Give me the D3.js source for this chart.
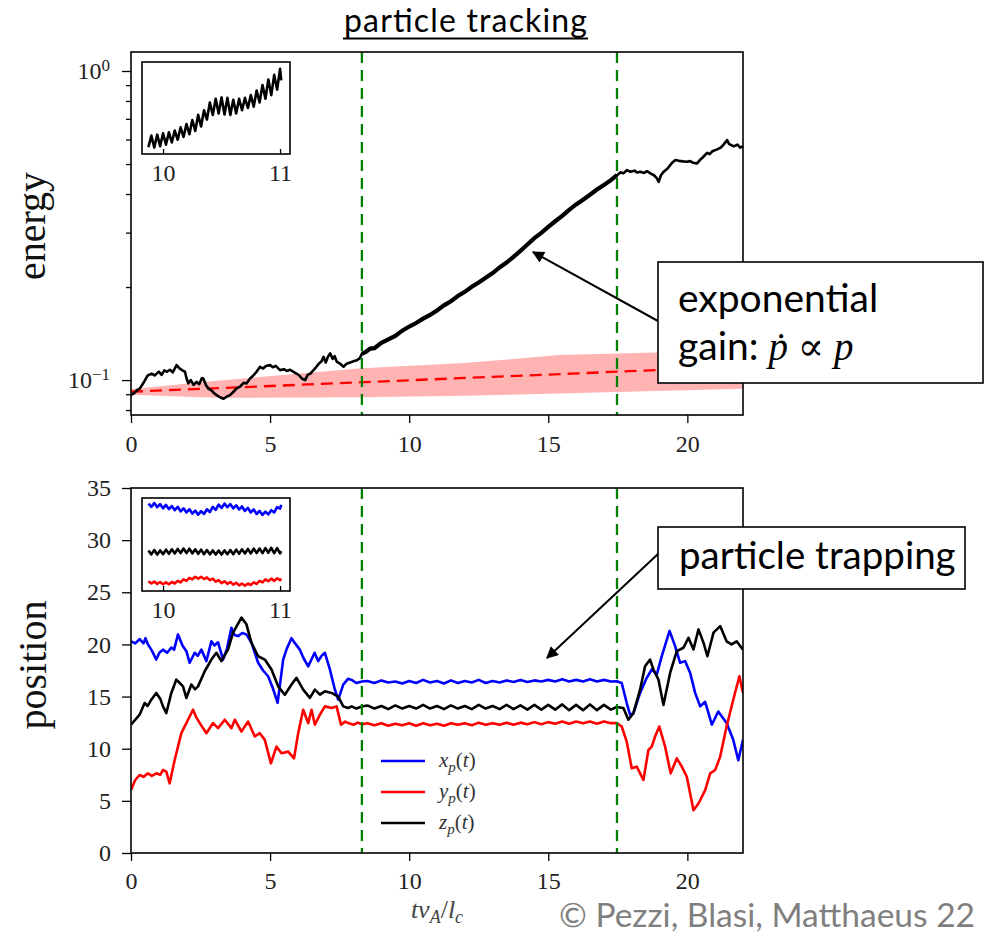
<!DOCTYPE html>
<html>
<head>
<meta charset="utf-8">
<script src="https://cdn.jsdelivr.net/npm/d3@7"></script>
<style>
  body { margin: 0; background: #fff; }
</style>
</head>
<body>
<div id="chart"></div>
<script>
// ---- data ----
const xTicks = [0, 5, 10, 15, 20]
const posTicks = [0, 5, 10, 15, 20, 25, 30, 35]
const energyMajor = [0.1, 1]
const energyMinor = [0.08, 0.09, 0.2, 0.3, 0.4, 0.5, 0.6, 0.7, 0.8, 0.9]
const trapBounds = [8.3, 17.47]
const insetTicks = [10, 11]

// energy of the tracked particle [t, E]
const energy = [
  [0, 0.0894], [0.1, 0.0905], [0.2, 0.0925], [0.32, 0.094], [0.45, 0.098], [0.6, 0.1035],
  [0.74, 0.105], [0.85, 0.1035], [1.0, 0.1065], [1.1, 0.104], [1.2, 0.1075], [1.28, 0.1064],
  [1.4, 0.108], [1.5, 0.106], [1.64, 0.1118], [1.75, 0.109], [1.85, 0.1075], [1.94, 0.1064],
  [2.0, 0.101], [2.06, 0.0976], [2.15, 0.1], [2.25, 0.0965], [2.36, 0.0987], [2.45, 0.097],
  [2.55, 0.1015], [2.6, 0.1012], [2.7, 0.096], [2.78, 0.094], [2.9, 0.0925], [3.0, 0.0905],
  [3.08, 0.0894], [3.2, 0.088], [3.32, 0.087], [3.45, 0.0885], [3.56, 0.0894], [3.7, 0.092],
  [3.8, 0.094], [3.92, 0.0952], [4.05, 0.098], [4.15, 0.0975], [4.28, 0.1012], [4.4, 0.1035],
  [4.5, 0.106], [4.64, 0.1104], [4.75, 0.109], [4.85, 0.111], [5.0, 0.1118], [5.1, 0.11],
  [5.2, 0.1112], [5.36, 0.1077], [5.5, 0.1085], [5.6, 0.107], [5.72, 0.108], [5.84, 0.1064],
  [5.95, 0.105], [6.05, 0.1035], [6.15, 0.101], [6.26, 0.1], [6.35, 0.104], [6.45, 0.105],
  [6.56, 0.1077], [6.65, 0.11], [6.75, 0.113], [6.85, 0.115], [6.92, 0.1189], [7.0, 0.114],
  [7.08, 0.119], [7.16, 0.122], [7.25, 0.117], [7.32, 0.1195], [7.4, 0.1146], [7.52, 0.113],
  [7.64, 0.1104], [7.75, 0.113], [7.88, 0.114], [8.0, 0.115], [8.12, 0.116], [8.22, 0.1175],
  [8.3, 0.1215], [8.45, 0.1235], [8.6, 0.1265], [8.75, 0.1268], [9.0, 0.132], [9.25, 0.1355],
  [9.5, 0.139], [9.75, 0.1445], [10.0, 0.149], [10.25, 0.153], [10.5, 0.158], [10.75, 0.1625],
  [11.0, 0.168], [11.25, 0.1745], [11.5, 0.18], [11.75, 0.187], [12.0, 0.193], [12.25, 0.2005],
  [12.5, 0.207], [12.75, 0.2145], [13.0, 0.222], [13.25, 0.2315], [13.5, 0.24], [13.75, 0.2505],
  [14.0, 0.262], [14.25, 0.2745], [14.5, 0.288], [14.75, 0.2995], [15.0, 0.313], [15.25, 0.3265],
  [15.5, 0.34], [15.75, 0.3555], [16.0, 0.37], [16.25, 0.3835], [16.5, 0.398], [16.75, 0.4135],
  [17.0, 0.428], [17.25, 0.4435], [17.47, 0.46], [17.6, 0.47], [17.7, 0.4665], [17.83, 0.478],
  [17.95, 0.472], [18.1, 0.476], [18.2, 0.469], [18.3, 0.4725], [18.45, 0.468], [18.55, 0.474],
  [18.67, 0.4667], [18.8, 0.46], [18.9, 0.45], [18.97, 0.4377], [19.05, 0.46], [19.15, 0.4725],
  [19.3, 0.485], [19.45, 0.505], [19.57, 0.5155], [19.7, 0.512], [19.85, 0.51], [19.99, 0.5089],
  [20.1, 0.511], [20.2, 0.505], [20.35, 0.5024], [20.45, 0.515], [20.55, 0.525], [20.71, 0.5434],
  [20.8, 0.538], [20.9, 0.55], [21.07, 0.5577], [21.2, 0.565], [21.3, 0.578], [21.43, 0.5977],
  [21.5, 0.58], [21.6, 0.575], [21.67, 0.5706], [21.8, 0.578], [21.9, 0.565], [22.0, 0.571]
]

// slow-growth reference line and its shaded band
const fitT = [0, 22]
const fitE = [0.0917, 0.1106]
const bandT = [0, 3, 8.3, 12, 15.4, 22]
const bandLo = [0.0897, 0.0876, 0.088, 0.089, 0.0905, 0.0938]
const bandHi = [0.0935, 0.0993, 0.1093, 0.1135, 0.1205, 0.125]

// particle position components [t, value]
const xp = [
  [0, 20.3], [0.15, 20.1], [0.31, 20.5], [0.45, 20.1], [0.52, 20.6], [0.61, 20.0], [0.75, 19.4],
  [0.91, 18.55], [1.02, 19.2], [1.15, 19.5], [1.3, 19.2], [1.45, 19.7], [1.55, 19.5], [1.69, 20.96],
  [1.85, 19.9], [1.99, 19.35], [2.11, 18.24], [2.29, 19.2], [2.4, 18.9], [2.53, 19.5], [2.71, 18.4],
  [2.89, 20.3], [3.0, 19.9], [3.13, 20.2], [3.31, 18.55], [3.45, 19.6], [3.61, 21.6], [3.72, 20.9],
  [3.85, 20.8], [4.0, 21.1], [4.15, 20.96], [4.33, 20.16], [4.57, 18.24], [4.75, 17.5], [4.93, 16.95],
  [5.1, 15.8], [5.27, 14.4], [5.47, 18.55], [5.6, 19.6], [5.77, 20.6], [5.9, 20.1], [6.07, 19.5],
  [6.2, 18.7], [6.37, 17.9], [6.6, 19.2], [6.73, 18.4], [6.85, 18.9], [6.97, 19.2], [7.15, 17.6],
  [7.33, 15.66], [7.45, 14.7], [7.63, 16.15], [7.8, 16.7], [7.93, 16.6], [8.1, 16.3], [8.3, 16.45],
  [8.5, 16.5], [8.75, 16.3], [9.0, 16.55], [9.25, 16.35], [9.5, 16.45], [9.75, 16.25], [10.0, 16.5],
  [10.25, 16.3], [10.5, 16.6], [10.75, 16.35], [11.0, 16.5], [11.25, 16.25], [11.5, 16.55], [11.75, 16.3],
  [12.0, 16.5], [12.25, 16.35], [12.5, 16.6], [12.75, 16.3], [13.0, 16.5], [13.25, 16.35], [13.5, 16.55],
  [13.75, 16.4], [14.0, 16.6], [14.25, 16.4], [14.5, 16.55], [14.75, 16.45], [15.0, 16.6], [15.25, 16.45],
  [15.5, 16.65], [15.75, 16.45], [16.0, 16.6], [16.25, 16.45], [16.5, 16.65], [16.75, 16.45], [17.0, 16.6],
  [17.25, 16.45], [17.46, 16.46], [17.64, 16.3], [17.82, 14.38], [17.94, 13.26], [18.06, 13.4],
  [18.3, 15.35], [18.54, 16.8], [18.72, 17.6], [18.9, 17.1], [19.08, 18.87], [19.36, 21.3], [19.56, 19.84],
  [19.74, 18.24], [19.92, 18.4], [20.1, 17.27], [20.28, 15.35], [20.46, 14.06], [20.64, 14.5],
  [20.88, 12.3], [21.11, 13.57], [21.41, 12.46], [21.65, 10.85], [21.83, 8.9], [22.0, 10.85]
]
const yp = [
  [0, 6.03], [0.15, 7.0], [0.31, 7.48], [0.45, 7.3], [0.61, 7.64], [0.75, 7.4], [0.91, 7.64],
  [1.05, 7.5], [1.15, 7.96], [1.27, 7.8], [1.39, 6.68], [1.57, 8.92], [1.81, 11.49], [1.99, 12.46],
  [2.23, 13.74], [2.35, 13.0], [2.47, 12.46], [2.71, 11.49], [2.95, 12.46], [3.13, 11.97], [3.37, 12.78],
  [3.61, 11.97], [3.73, 12.78], [3.97, 11.65], [4.21, 12.61], [4.45, 11.17], [4.63, 11.49], [4.81, 10.85],
  [5.03, 8.6], [5.23, 10.2], [5.41, 9.57], [5.65, 9.72], [5.86, 9.08], [6.01, 11.49], [6.19, 13.74],
  [6.37, 12.46], [6.49, 13.74], [6.61, 12.3], [6.79, 13.26], [6.97, 14.06], [7.21, 13.9], [7.39, 14.06],
  [7.55, 12.3], [7.7, 12.6], [7.81, 12.46], [8.0, 12.3], [8.15, 12.5], [8.3, 12.35],
  [8.5, 12.45], [8.75, 12.25], [9.0, 12.45], [9.25, 12.2], [9.5, 12.4], [9.75, 12.25], [10.0, 12.45],
  [10.25, 12.2], [10.5, 12.45], [10.75, 12.25], [11.0, 12.4], [11.25, 12.2], [11.5, 12.45], [11.75, 12.3],
  [12.0, 12.45], [12.25, 12.25], [12.5, 12.5], [12.75, 12.3], [13.0, 12.45], [13.25, 12.3], [13.5, 12.5],
  [13.75, 12.3], [14.0, 12.5], [14.25, 12.35], [14.5, 12.55], [14.75, 12.35], [15.0, 12.55], [15.25, 12.4],
  [15.5, 12.6], [15.75, 12.4], [16.0, 12.6], [16.25, 12.45], [16.5, 12.6], [16.75, 12.4], [17.0, 12.6],
  [17.25, 12.45], [17.46, 12.46], [17.64, 12.13], [17.82, 10.68], [18.0, 8.12], [18.18, 8.28],
  [18.42, 7.0], [18.6, 9.88], [18.72, 10.2], [18.84, 11.17], [18.99, 12.13], [19.2, 10.2], [19.4, 7.64],
  [19.62, 9.08], [19.8, 8.28], [19.98, 7.31], [20.22, 4.1], [20.4, 4.75], [20.64, 6.03], [20.82, 7.64],
  [21.0, 7.96], [21.18, 9.24], [21.41, 12.13], [21.65, 14.7], [21.87, 16.95], [22.0, 15.35]
]
const zp = [
  [0, 12.3], [0.31, 13.26], [0.49, 14.38], [0.6, 14.1], [0.73, 14.7], [0.91, 15.35], [1.05, 14.8],
  [1.15, 14.06], [1.27, 13.42], [1.45, 15.35], [1.63, 16.63], [1.75, 16.3], [1.87, 15.98], [1.99, 14.87],
  [2.17, 16.15], [2.3, 15.7], [2.41, 15.98], [2.65, 17.43], [2.89, 18.55], [3.07, 19.2], [3.25, 18.4],
  [3.49, 19.52], [3.67, 21.13], [3.85, 22.0], [3.97, 22.57], [4.15, 21.93], [4.33, 20.16], [4.57, 18.87],
  [4.81, 18.55], [5.05, 17.59], [5.29, 15.98], [5.53, 15.18], [5.77, 16.15], [5.95, 16.8], [6.19, 15.66],
  [6.43, 14.87], [6.61, 15.66], [6.79, 15.18], [6.97, 15.5], [7.21, 15.35], [7.45, 15.0], [7.63, 14.06],
  [7.8, 13.9], [7.93, 14.06], [8.1, 13.85], [8.3, 14.05],
  [8.5, 14.15], [8.75, 13.85], [9.0, 14.1], [9.25, 13.8], [9.5, 14.15], [9.75, 13.85], [10.0, 14.1],
  [10.25, 13.85], [10.5, 14.2], [10.75, 13.85], [11.0, 14.1], [11.25, 13.8], [11.5, 14.15], [11.75, 13.85],
  [12.0, 14.1], [12.25, 13.8], [12.5, 14.2], [12.75, 13.85], [13.0, 14.1], [13.25, 13.8], [13.5, 14.2],
  [13.75, 13.8], [14.0, 14.15], [14.25, 13.75], [14.5, 14.2], [14.75, 13.75], [15.0, 14.2], [15.25, 13.75],
  [15.5, 14.25], [15.75, 13.7], [16.0, 14.2], [16.25, 13.7], [16.5, 14.25], [16.75, 13.7], [17.0, 14.2],
  [17.25, 13.75], [17.46, 14.0], [17.7, 13.9], [17.88, 12.78], [18.06, 13.4], [18.3, 15.66], [18.48, 17.9],
  [18.66, 18.55], [18.78, 17.6], [18.96, 16.63], [19.14, 14.2], [19.38, 17.27], [19.62, 19.35],
  [19.86, 19.68], [20.04, 20.64], [20.22, 19.52], [20.4, 21.44], [20.58, 20.16], [20.72, 18.87],
  [20.94, 21.13], [21.18, 21.76], [21.41, 20.3], [21.59, 20.0], [21.77, 20.3], [22.0, 19.5]
]

// zoomed insets, t in [9.875, 11.01]
const insetT = [
  9.875, 9.9, 9.925, 9.95, 9.975, 10.0, 10.025, 10.05, 10.075, 10.1, 10.125, 10.15, 10.175, 10.2,
  10.225, 10.25, 10.275, 10.3, 10.325, 10.35, 10.375, 10.4, 10.425, 10.45, 10.475, 10.5, 10.525,
  10.55, 10.575, 10.6, 10.625, 10.65, 10.675, 10.7, 10.725, 10.75, 10.775, 10.8, 10.825, 10.85,
  10.875, 10.9, 10.925, 10.95, 10.975, 11.0, 11.01
]
const insetEnergy = [
  0.1515, 0.154, 0.1514, 0.1542, 0.1517, 0.1545, 0.152, 0.1547, 0.1525, 0.1551, 0.1531, 0.1558,
  0.1537, 0.1565, 0.1543, 0.1574, 0.155, 0.1585, 0.156, 0.1595, 0.1575, 0.1612, 0.1585, 0.162,
  0.1588, 0.1623, 0.1586, 0.1622, 0.1585, 0.1618, 0.1588, 0.162, 0.1595, 0.1622, 0.16, 0.1628,
  0.1603, 0.1638, 0.1612, 0.165, 0.162, 0.1662, 0.1628, 0.1672, 0.164, 0.1685, 0.166
]
const insetXp = [
  16.55, 16.38, 16.58, 16.36, 16.52, 16.3, 16.48, 16.26, 16.42, 16.2, 16.38, 16.14, 16.3, 16.08,
  16.25, 16.02, 16.18, 15.96, 16.15, 16.0, 16.25, 16.1, 16.38, 16.22, 16.5, 16.32, 16.55, 16.36,
  16.52, 16.3, 16.46, 16.24, 16.4, 16.16, 16.32, 16.08, 16.24, 16.0, 16.16, 15.95, 16.12, 15.98,
  16.2, 16.08, 16.36, 16.28, 16.48
]
const insetYp = [
  12.42, 12.3, 12.4, 12.28, 12.38, 12.26, 12.36, 12.26, 12.38, 12.3, 12.44, 12.36, 12.52, 12.44,
  12.6, 12.52, 12.66, 12.56, 12.66, 12.54, 12.62, 12.48, 12.56, 12.4, 12.48, 12.32, 12.42, 12.28,
  12.38, 12.24, 12.34, 12.2, 12.3, 12.18, 12.3, 12.22, 12.36, 12.28, 12.44, 12.36, 12.52, 12.42,
  12.56, 12.44, 12.58, 12.48, 12.56
]
const insetZp = [
  14.05, 13.85, 14.08, 13.84, 14.06, 13.86, 14.1, 13.88, 14.12, 13.9, 14.14, 13.92, 14.16, 13.92,
  14.15, 13.9, 14.12, 13.88, 14.1, 13.86, 14.08, 13.85, 14.06, 13.84, 14.05, 13.84, 14.06, 13.86,
  14.08, 13.86, 14.1, 13.88, 14.12, 13.9, 14.14, 13.9, 14.15, 13.92, 14.16, 13.92, 14.18, 13.94,
  14.2, 13.92, 14.18, 13.9, 14.02
]

const seriesNames = ['x', 'y', 'z']
const seriesColors = ['#0000ff', '#ff0000', '#000000']

// ---- layout ----
const width = 1002
const height = 933
const serif = "'Liberation Serif', 'DejaVu Serif', serif"
const sans = "Lato, 'Open Sans', sans-serif"
const plotLeft = 131
const plotRight = 743
const top1 = 52, bottom1 = 415
const top2 = 488, bottom2 = 853

const svg = d3.select('#chart').append('svg')
  .attr('width', width)
  .attr('height', height)
  .attr('viewBox', `0 0 ${width} ${height}`)

const defs = svg.append('defs')
defs.append('marker')
  .attr('id', 'arrowhead')
  .attr('viewBox', '0 0 10 10')
  .attr('refX', 9).attr('refY', 5)
  .attr('markerWidth', 15).attr('markerHeight', 12)
  .attr('markerUnits', 'userSpaceOnUse')
  .attr('orient', 'auto')
  .append('path').attr('d', 'M0,0 L10,5 L0,10 Z').attr('fill', '#000')

function addClip(id, x0, y0, w, h) {
  defs.append('clipPath').attr('id', id)
    .append('rect').attr('x', x0).attr('y', y0).attr('width', w).attr('height', h)
}
addClip('clipTop', plotLeft, top1, plotRight - plotLeft, bottom1 - top1)
addClip('clipBottom', plotLeft, top2, plotRight - plotLeft, bottom2 - top2)

const x = d3.scaleLinear().domain([0, 22]).range([plotLeft, plotRight])
const yE = d3.scaleLog().domain([0.0771, 1.152]).range([bottom1, top1])
const yP = d3.scaleLinear().domain([0, 35]).range([bottom2, top2])

function styleAxis(g) {
  g.select('.domain').remove()
  g.selectAll('.tick line').attr('stroke', '#000').attr('stroke-width', 1.3)
  g.selectAll('.tick text')
    .attr('fill', '#222')
    .attr('font-family', serif)
    .attr('font-size', 24)
}

// ---------- top panel: energy ----------
const gTop = svg.append('g')
const topPlot = gTop.append('g').attr('clip-path', 'url(#clipTop)')

const band = d3.area()
  .x((d) => x(d[0]))
  .y0((d) => yE(d[1]))
  .y1((d) => yE(d[2]))
topPlot.append('path')
  .datum(bandT.map((t, i) => [t, bandLo[i], bandHi[i]]))
  .attr('d', band)
  .attr('fill', '#ffb3b3')

const lineE = d3.line().x((d) => x(d[0])).y((d) => yE(d[1]))
topPlot.append('path')
  .datum(fitT.map((t, i) => [t, fitE[i]]))
  .attr('d', lineE)
  .attr('fill', 'none')
  .attr('stroke', '#ff0000')
  .attr('stroke-width', 2.3)
  .attr('stroke-dasharray', '12,7')

topPlot.append('path')
  .datum(energy)
  .attr('d', lineE)
  .attr('fill', 'none')
  .attr('stroke', '#000')
  .attr('stroke-width', 2.6)
  .attr('stroke-linejoin', 'round')

// the exponential stretch is a fuzzy, thicker band in the figure
topPlot.append('path')
  .datum(energy.filter((d) => d[0] >= trapBounds[0] && d[0] <= trapBounds[1]))
  .attr('d', lineE)
  .attr('fill', 'none')
  .attr('stroke', '#000')
  .attr('stroke-width', 4.2)

trapBounds.forEach((t) => {
  topPlot.append('line')
    .attr('x1', x(t)).attr('x2', x(t))
    .attr('y1', top1).attr('y2', bottom1)
    .attr('stroke', '#008000')
    .attr('stroke-width', 2.3)
    .attr('stroke-dasharray', '11,7')
})

gTop.append('g')
  .attr('transform', `translate(0,${bottom1})`)
  .call(d3.axisBottom(x).tickValues(xTicks).tickSize(8).tickPadding(12).tickFormat(d3.format('d')))
  .call(styleAxis)

gTop.append('g')
  .attr('transform', `translate(${plotLeft},0)`)
  .call(d3.axisLeft(yE).tickValues(energyMinor).tickSize(5).tickFormat(''))
  .call(styleAxis)

const majorAxis = gTop.append('g')
  .attr('transform', `translate(${plotLeft},0)`)
  .call(d3.axisLeft(yE).tickValues(energyMajor).tickSize(9).tickPadding(12).tickFormat(() => '10'))
  .call(styleAxis)
majorAxis.selectAll('.tick text')
  .append('tspan')
  .attr('dy', '-0.5em')
  .attr('font-size', 17)
  .text((d) => (d === 1 ? '0' : '\u22121'))

gTop.append('rect')
  .attr('x', plotLeft).attr('y', top1)
  .attr('width', plotRight - plotLeft).attr('height', bottom1 - top1)
  .attr('fill', 'none').attr('stroke', '#000').attr('stroke-width', 1.6)

svg.append('text')
  .attr('transform', 'translate(45,226) rotate(-90)')
  .attr('text-anchor', 'middle')
  .attr('font-family', serif)
  .attr('font-size', 40)
  .attr('fill', '#111')
  .text('energy')

// ---------- bottom panel: position ----------
const gBot = svg.append('g')
const botPlot = gBot.append('g').attr('clip-path', 'url(#clipBottom)')
const lineP = d3.line().x((d) => x(d[0])).y((d) => yP(d[1]))

;[xp, yp, zp].forEach((series, i) => {
  botPlot.append('path')
    .datum(series)
    .attr('d', lineP)
    .attr('fill', 'none')
    .attr('stroke', seriesColors[i])
    .attr('stroke-width', 2.6)
    .attr('stroke-linejoin', 'round')
})

trapBounds.forEach((t) => {
  botPlot.append('line')
    .attr('x1', x(t)).attr('x2', x(t))
    .attr('y1', top2).attr('y2', bottom2)
    .attr('stroke', '#008000')
    .attr('stroke-width', 2.3)
    .attr('stroke-dasharray', '11,7')
})

gBot.append('g')
  .attr('transform', `translate(0,${bottom2})`)
  .call(d3.axisBottom(x).tickValues(xTicks).tickSize(8).tickPadding(11).tickFormat(d3.format('d')))
  .call(styleAxis)

gBot.append('g')
  .attr('transform', `translate(${plotLeft},0)`)
  .call(d3.axisLeft(yP).tickValues(posTicks).tickSize(9).tickPadding(11).tickFormat(d3.format('d')))
  .call(styleAxis)

gBot.append('rect')
  .attr('x', plotLeft).attr('y', top2)
  .attr('width', plotRight - plotLeft).attr('height', bottom2 - top2)
  .attr('fill', 'none').attr('stroke', '#000').attr('stroke-width', 1.6)

svg.append('text')
  .attr('transform', 'translate(46,665) rotate(-90)')
  .attr('text-anchor', 'middle')
  .attr('font-family', serif)
  .attr('font-size', 40)
  .attr('fill', '#111')
  .text('position')

// legend
const legend = gBot.append('g').attr('transform', 'translate(381,761)')
seriesNames.forEach((name, i) => {
  const row = legend.append('g').attr('transform', `translate(0,${i * 31})`)
  row.append('line')
    .attr('x1', 0).attr('x2', 44)
    .attr('stroke', seriesColors[i]).attr('stroke-width', 2.6)
  const label = row.append('text')
    .attr('x', 58).attr('y', 6)
    .attr('font-family', serif)
    .attr('font-style', 'italic')
    .attr('font-size', 21)
    .attr('fill', '#333')
  label.append('tspan').text(name)
  label.append('tspan').attr('dy', 5).attr('font-size', 15).text('p')
  label.append('tspan').attr('dy', -5).attr('font-style', 'normal').text('(')
  label.append('tspan').text('t')
  label.append('tspan').attr('font-style', 'normal').text(')')
})

// x label
const xLabel = svg.append('text')
  .attr('x', 437).attr('y', 918)
  .attr('text-anchor', 'middle')
  .attr('font-family', serif)
  .attr('font-style', 'italic')
  .attr('font-size', 26)
  .attr('fill', '#444')
xLabel.append('tspan').text('tv')
xLabel.append('tspan').attr('dy', 5).attr('font-size', 18).text('A')
xLabel.append('tspan').attr('dy', -5).attr('font-style', 'normal').text('/')
xLabel.append('tspan').text('l')
xLabel.append('tspan').attr('dy', 5).attr('font-size', 18).text('c')

// ---------- insets ----------
const xi = d3.scaleLinear().domain([9.82, 11.085]).range([142, 290])

function drawInset(y0, y1, yDomain, seriesList, colors) {
  const yi = d3.scaleLinear().domain(yDomain).range([y1, y0])
  const id = `clipInset${y0}`
  addClip(id, 142, y0, 148, y1 - y0)
  const g = svg.append('g')
  g.append('rect').attr('x', 142).attr('y', y0).attr('width', 148).attr('height', y1 - y0)
    .attr('fill', '#fff')
  const inner = g.append('g').attr('clip-path', `url(#${id})`)
  const line = d3.line().x((d) => xi(d[0])).y((d) => yi(d[1]))
  seriesList.forEach((vals, i) => {
    inner.append('path')
      .datum(insetT.map((t, j) => [t, vals[j]]))
      .attr('d', line)
      .attr('fill', 'none')
      .attr('stroke', colors[i])
      .attr('stroke-width', 2.6)
      .attr('stroke-linejoin', 'round')
  })
  const axis = g.append('g')
    .attr('transform', `translate(0,${y1})`)
    .call(d3.axisBottom(xi).tickValues(insetTicks).tickSize(-5).tickFormat(d3.format('d')))
    .call(styleAxis)
  axis.selectAll('.tick text').attr('y', 10)
  g.append('rect').attr('x', 142).attr('y', y0).attr('width', 148).attr('height', y1 - y0)
    .attr('fill', 'none').attr('stroke', '#000').attr('stroke-width', 1.6)
}
drawInset(62, 154, [0.15, 0.17], [insetEnergy], ['#000'])
drawInset(498, 591, [11.9, 16.85], [insetXp, insetYp, insetZp], seriesColors)

// ---------- annotations ----------
function callout(bx, by, bw, bh, from, to) {
  svg.append('line')
    .attr('x1', from[0]).attr('y1', from[1])
    .attr('x2', to[0]).attr('y2', to[1])
    .attr('stroke', '#000').attr('stroke-width', 2)
    .attr('marker-end', 'url(#arrowhead)')
  svg.append('rect')
    .attr('x', bx).attr('y', by).attr('width', bw).attr('height', bh)
    .attr('fill', '#fff').attr('stroke', '#000').attr('stroke-width', 1.6)
}

callout(658, 262, 325, 121, [658, 321], [533, 252])
svg.append('text')
  .attr('x', 678).attr('y', 312)
  .attr('font-family', sans).attr('font-size', 39).attr('fill', '#000')
  .text('exponential')
const gain = svg.append('text')
  .attr('x', 678).attr('y', 360)
  .attr('font-family', sans).attr('font-size', 39).attr('fill', '#000')
gain.append('tspan').text('gain: ')
gain.append('tspan').attr('font-family', serif).attr('font-style', 'italic').text('p\u0307')
gain.append('tspan').attr('font-family', serif).text(' \u221d ')
gain.append('tspan').attr('font-family', serif).attr('font-style', 'italic').text('p')

callout(658, 527, 307, 62, [658, 554], [547, 658])
svg.append('text')
  .attr('x', 679).attr('y', 569)
  .attr('font-family', sans).attr('font-size', 38.5).attr('fill', '#000')
  .text('particle trapping')

// title, stretched to the width of its underline
svg.append('text')
  .attr('x', 344).attr('y', 32)
  .attr('font-family', sans).attr('font-size', 32).attr('fill', '#000')
  .attr('textLength', 243)
  .attr('lengthAdjust', 'spacing')
  .text('particle tracking')
svg.append('line')
  .attr('x1', 343).attr('x2', 588).attr('y1', 38.5).attr('y2', 38.5)
  .attr('stroke', '#000').attr('stroke-width', 2)

// credit
svg.append('text')
  .attr('x', 975).attr('y', 927)
  .attr('text-anchor', 'end')
  .attr('font-family', sans).attr('font-size', 33.5).attr('fill', '#7f7f7f')
  .text('\u00a9 Pezzi, Blasi, Matthaeus 22')
</script>
</body>
</html>
